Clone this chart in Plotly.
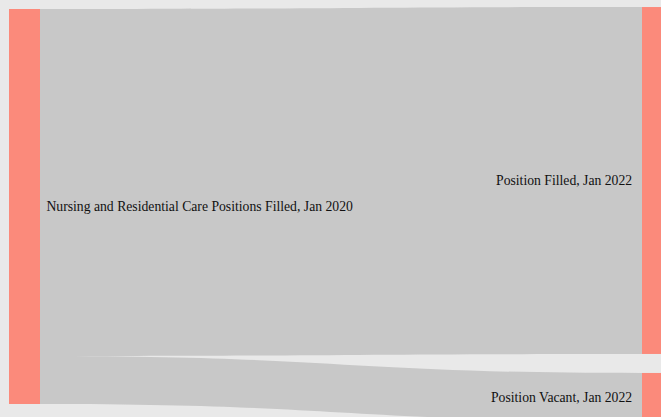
import plotly.graph_objects as go

# Data: nursing & residential care positions (thousands)
node_labels = [
    "Nursing and Residential Care Positions Filled, Jan 2020",
    "Position Filled, Jan 2022",
    "Position Vacant, Jan 2022",
]
link_source = [0, 0]
link_target = [1, 2]
link_values = [2960, 410]

W, H = 661, 417
NB = "\u00a0"
display_labels = [NB + node_labels[0], node_labels[1] + NB + NB, node_labels[2] + NB + NB]

fig = go.Figure(
    go.Sankey(
        arrangement="fixed",
        domain=dict(x=[0, 1], y=[0, 1]),
        node=dict(
            label=display_labels,
            x=[24.5 / W, 657.5 / W, 657.5 / W],
            y=[206.5 / H, 180.5 / H, 397.0 / H],
            pad=22,
            thickness=31,
            color="#fb8a7b",
            line=dict(width=0),
            hoverinfo="skip",
        ),
        link=dict(
            source=link_source,
            target=link_target,
            value=link_values,
            color="#c8c8c8",
            hoverinfo="skip",
        ),
        textfont=dict(family="Liberation Serif", size=13.7, color="#111111", shadow="none"),
    )
)

fig.update_layout(
    width=W,
    height=H,
    margin=dict(l=0, r=0, t=0, b=0),
    paper_bgcolor="#e9e9e9",
    plot_bgcolor="#e9e9e9",
)

fig.write_html(
    "out.html",
    config={"displayModeBar": False},
    post_script="document.body.style.margin='0';document.body.style.background='#e9e9e9';document.body.style.overflow='hidden';",
)
